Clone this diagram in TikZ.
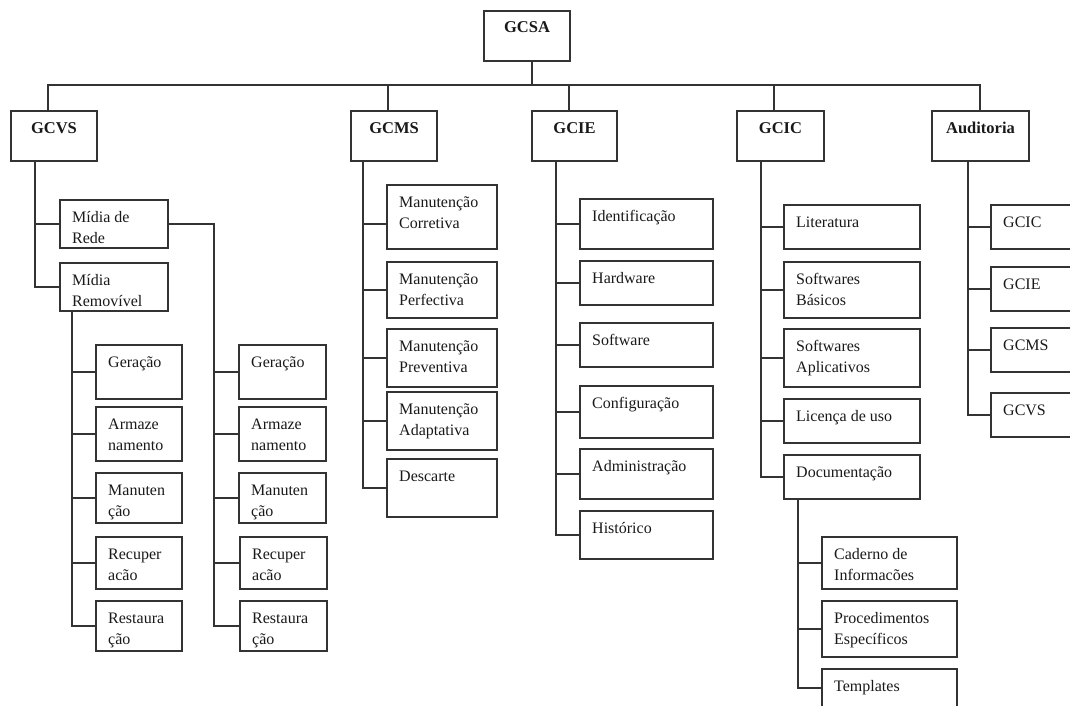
\documentclass[tikz,border=0pt]{standalone}
\usepackage{fontspec}
\setmainfont{Liberation Serif}
\begin{document}
\begin{tikzpicture}[x=1pt,y=-1pt,
  bxs/.style={draw=black!80,line width=1.6pt,rectangle,inner sep=0pt,outer sep=0pt,anchor=north west},
  lbl/.style={anchor=base west,inner sep=0pt,text=black!90,font=\fontsize{16}{21}\selectfont},
  ttl/.style={anchor=base,inner sep=0pt,text=black!90,font=\fontsize{16.5}{21}\selectfont\bfseries},
  ln/.style={draw=black!80,line width=1.6pt}]
\useasboundingbox (0,0) rectangle (1070,706);
\clip (0,0) rectangle (1070,706);
\newcommand\bx[6]{%
  \node[bxs,minimum width={(#4-#2)*1pt},minimum height={(#5-#3)*1pt}] (#1) at (#2,#3) {};
  \node[lbl] (#1-l) at ([shift={(12,22)}]#1.north west) {\begin{tabular}[t]{@{}l@{}}#6\end{tabular}};}
\newcommand\tb[6]{%
  \node[bxs,minimum width={(#4-#2)*1pt},minimum height={(#5-#3)*1pt}] (#1) at (#2,#3) {};
  \node[ttl] (#1-l) at ([shift={(0,22)}]#1.north) {#6};}
% top level
\tb{gcsa}{484}{11}{570}{61}{GCSA}
\tb{gcvs}{11}{111}{97}{161}{GCVS}
\tb{gcms}{351}{111}{437}{161}{GCMS}
\tb{gcie}{532}{111}{617}{161}{GCIE}
\tb{gcic}{737}{111}{824}{161}{GCIC}
\tb{aud}{932}{111}{1029}{161}{Auditoria}
% bus
\coordinate (busy) at (0,85);
\coordinate (dsa) at ([xshift=48]gcsa.south west);
\coordinate (dvs) at ([xshift=37]gcvs.north west);
\coordinate (dms) at ([xshift=37]gcms.north west);
\coordinate (die) at ([xshift=37]gcie.north west);
\coordinate (dic) at ([xshift=37]gcic.north west);
\coordinate (dau) at ([xshift=48]aud.north west);
\draw[ln] (dsa) -- (dsa |- busy);
\draw[ln] (dvs) -- (dvs |- busy) -- (dau |- busy) -- (dau);
\draw[ln] (dms) -- (dms |- busy);
\draw[ln] (die) -- (die |- busy);
\draw[ln] (dic) -- (dic |- busy);
% GCVS
\bx{mrede}{60}{200}{168}{248}{Mídia de\\Rede}
\bx{mrem}{60}{263}{168}{311}{Mídia\\Removível}
\coordinate (tvs) at ([xshift=24]gcvs.south west);
\draw[ln] (tvs |- mrede.west) -- (mrede.west);
\draw[ln] (tvs) |- (mrem.west);
% column 1
\bx{gera}{96}{345}{182}{399}{Geração}
\bx{arma}{96}{407}{182}{461}{Armaze\\namento}
\bx{manu}{96}{473}{182}{523}{Manuten\\ção}
\bx{recu}{96}{537}{182}{589}{Recuper\\acão}
\bx{rest}{96}{601}{182}{651}{Restaura\\ção}
\coordinate (tc1) at ([xshift=12]mrem.south west);
\foreach \n in {gera,arma,manu,recu} \draw[ln] (tc1 |- \n.west) -- (\n.west);
\draw[ln] (tc1) |- (rest.west);
% column 2
\bx{gerb}{239}{345}{326}{399}{Geração}
\bx{armb}{239}{407}{326}{461}{Armaze\\namento}
\bx{manb}{239}{473}{326}{523}{Manuten\\ção}
\bx{recb}{240}{537}{327}{589}{Recuper\\acão}
\bx{resb}{240}{601}{327}{651}{Restaura\\ção}
\coordinate (tc2) at ([xshift=46]mrede.east);
\draw[ln] (mrede.east) -- (tc2) |- (resb.west);
\foreach \n in {gerb,armb,manb,recb} \draw[ln] (tc2 |- \n.west) -- (\n.west);
% GCMS
\bx{mcor}{387}{185}{497}{249}{Manutenção\\Corretiva}
\bx{mper}{387}{262}{497}{318}{Manutenção\\Perfectiva}
\bx{mpre}{387}{329}{497}{387}{Manutenção\\Preventiva}
\bx{mada}{387}{392}{497}{450}{Manutenção\\Adaptativa}
\bx{desc}{387}{459}{497}{517}{Descarte}
\coordinate (tms) at ([xshift=12]gcms.south west);
\draw[ln] (tms |- mcor.west) ++(0,7) -- ([yshift=-7]mcor.west);
\foreach \n in {mper,mpre,mada} \draw[ln] (tms |- \n.west) -- (\n.west);
\draw[ln] (tms) |- (desc.west);
% GCIE
\bx{iden}{580}{199}{713}{249}{Identificação}
\bx{hard}{580}{261}{713}{305}{Hardware}
\bx{soft}{580}{323}{713}{367}{Software}
\bx{conf}{580}{386}{713}{438}{Configuração}
\bx{admi}{580}{449}{713}{499}{Administração}
\bx{hist}{580}{511}{713}{559}{Histórico}
\coordinate (tie) at ([xshift=24]gcie.south west);
\foreach \n in {iden,hard,soft,conf,admi} \draw[ln] (tie |- \n.west) -- (\n.west);
\draw[ln] (tie) |- (hist.west);
% GCIC
\bx{lite}{784}{205}{920}{249}{Literatura}
\bx{sbas}{784}{262}{920}{318}{Softwares\\Básicos}
\bx{sapl}{784}{329}{920}{387}{Softwares\\Aplicativos}
\bx{lice}{784}{399}{920}{443}{Licença de uso}
\bx{docu}{784}{455}{920}{499}{Documentação}
\coordinate (tic) at ([xshift=24]gcic.south west);
\foreach \n in {lite,sbas,sapl,lice} \draw[ln] (tic |- \n.west) -- (\n.west);
\draw[ln] (tic) |- (docu.west);
% Documentacao
\bx{cade}{822}{537}{957}{589}{Caderno de\\Informacões}
\bx{proc}{822}{601}{957}{657}{Procedimentos\\Específicos}
\bx{temp}{822}{669}{957}{712}{Templates}
\coordinate (tdo) at ([xshift=14]docu.south west);
\draw[ln] (tdo |- cade.west) -- (cade.west);
\draw[ln] (tdo |- proc.west) -- (proc.west);
\draw[ln] (tdo) -- (tdo |- 0,688) -- (temp.west |- 0,688);
% Auditoria
\bx{agic}{991}{205}{1078}{249}{GCIC}
\bx{agie}{991}{267}{1078}{311}{GCIE}
\bx{agms}{991}{328}{1078}{372}{GCMS}
\bx{agvs}{991}{393}{1078}{437}{GCVS}
\coordinate (tau) at ([xshift=36]aud.south west);
\foreach \n in {agic,agie,agms} \draw[ln] (tau |- \n.west) -- (\n.west);
\draw[ln] (tau) |- (agvs.west);
\end{tikzpicture}
\end{document}
